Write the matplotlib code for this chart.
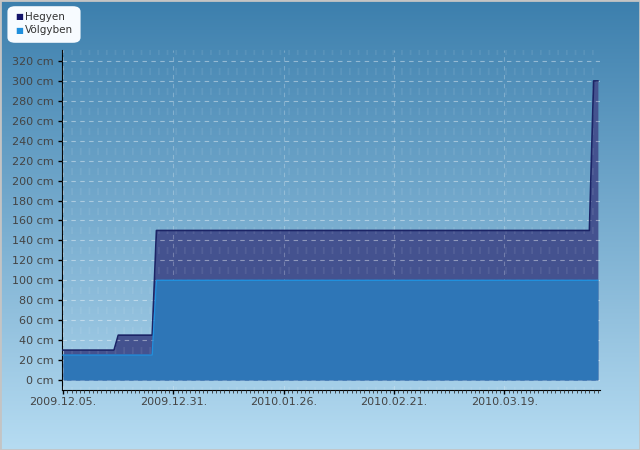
import numpy as np
import pandas as pd
import matplotlib
matplotlib.use('Agg')
import matplotlib.pyplot as plt
import matplotlib.dates as mdates
from matplotlib.ticker import MultipleLocator, FuncFormatter
from matplotlib.patches import FancyBboxPatch, Rectangle

# snow depth, cm (step breakpoints)
hegyen_dates = ['2009-12-05', '2009-12-17', '2009-12-18', '2009-12-26', '2009-12-27',
                '2010-04-08', '2010-04-09', '2010-04-10']
hegyen_cm = [30, 30, 45, 45, 150, 150, 300, 300]

volgyben_dates = ['2009-12-05', '2009-12-26', '2009-12-27', '2010-04-10']
volgyben_cm = [25, 25, 100, 100]

xtick_dates = ['2009-12-05', '2009-12-31', '2010-01-26', '2010-02-21', '2010-03-19']

hx = pd.to_datetime(hegyen_dates)
vx = pd.to_datetime(volgyben_dates)

fig = plt.figure(figsize=(6.4, 4.5), dpi=100)

# background gradient
bg = fig.add_axes([0, 0, 1, 1], zorder=-10)
grad = np.linspace(0, 1, 256).reshape(-1, 1)
top = np.array([0x3c, 0x7f, 0xad]) / 255
bot = np.array([0xb6, 0xdc, 0xf2]) / 255
img = top + (bot - top) * grad[:, :, None]
bg.imshow(img, aspect='auto', extent=[0, 1, 0, 1], origin='upper')
bg.add_patch(Rectangle((0, 0), 1, 1, transform=bg.transAxes, fill=False,
                       edgecolor='#c4c4c4', linewidth=2))
bg.set_axis_off()

ax = fig.add_axes([62 / 640, 1 - 390 / 450, 538 / 640, 340 / 450])
ax.set_facecolor('none')

ax.fill_between(hx, hegyen_cm, 0, color='#44528f', zorder=2, linewidth=0)
ax.plot(hx, hegyen_cm, color='#1c2466', linewidth=1.2, zorder=3)
ax.fill_between(vx, volgyben_cm, 0, color='#2e76b7', zorder=4, linewidth=0)
ax.plot(vx, volgyben_cm, color='#2090dd', linewidth=1.0, zorder=5)

ax.set_ylim(-10, 331)
ax.set_xlim(pd.Timestamp('2009-12-04 18:00'), pd.Timestamp('2010-04-10 12:00'))

ax.yaxis.set_major_locator(MultipleLocator(20))
ax.yaxis.set_minor_locator(MultipleLocator(10))
ax.yaxis.set_major_formatter(FuncFormatter(lambda v, p: f'{int(v)} cm'))
ax.set_xticks(pd.to_datetime(xtick_dates))
ax.xaxis.set_major_formatter(mdates.DateFormatter('%Y.%m.%d.'))
ax.xaxis.set_minor_locator(mdates.DayLocator())

ax.grid(axis='y', which='major', color='white', alpha=0.4, linestyle=(0, (4, 4)),
        linewidth=0.8, zorder=6)
ax.grid(axis='y', which='minor', color='white', alpha=0.08, linestyle=(0, (0.25, 1.0)),
        linewidth=5, zorder=6)
ax.grid(axis='x', which='major', color='white', alpha=0.25, linestyle=(0, (4, 4)),
        linewidth=0.8, zorder=6)
ax.set_axisbelow(False)

for s in ['top', 'right']:
    ax.spines[s].set_visible(False)
ax.spines['left'].set_color('black')
ax.spines['bottom'].set_color('black')
ax.tick_params(axis='both', which='major', labelsize=8, labelcolor='#444444',
               length=3, width=1, color='black')
ax.tick_params(axis='y', which='major', pad=3)
ax.tick_params(axis='y', which='minor', length=0)
ax.tick_params(axis='x', which='minor', length=2, width=0.6, color='#333333')
ax.tick_params(axis='x', which='major', pad=2)

# legend box
leg = FancyBboxPatch((10 / 640, 1 - 41 / 450), 68 / 640, 33 / 450,
                     boxstyle='round,pad=0.004,rounding_size=0.012',
                     transform=fig.transFigure, facecolor='#f7fbff',
                     edgecolor='none', zorder=20)
fig.add_artist(leg)
fig.text(15 / 640, 1 - 17 / 450, '■', color='#14146b', fontsize=6, va='center', zorder=21)
fig.text(25 / 640, 1 - 17 / 450, 'Hegyen', color='#333333', fontsize=7.5, va='center', zorder=21)
fig.text(15 / 640, 1 - 30 / 450, '■', color='#1f8fdc', fontsize=6, va='center', zorder=21)
fig.text(25 / 640, 1 - 30 / 450, 'Völgyben', color='#333333', fontsize=7.5, va='center', zorder=21)

fig.savefig('out.png', dpi=100)
